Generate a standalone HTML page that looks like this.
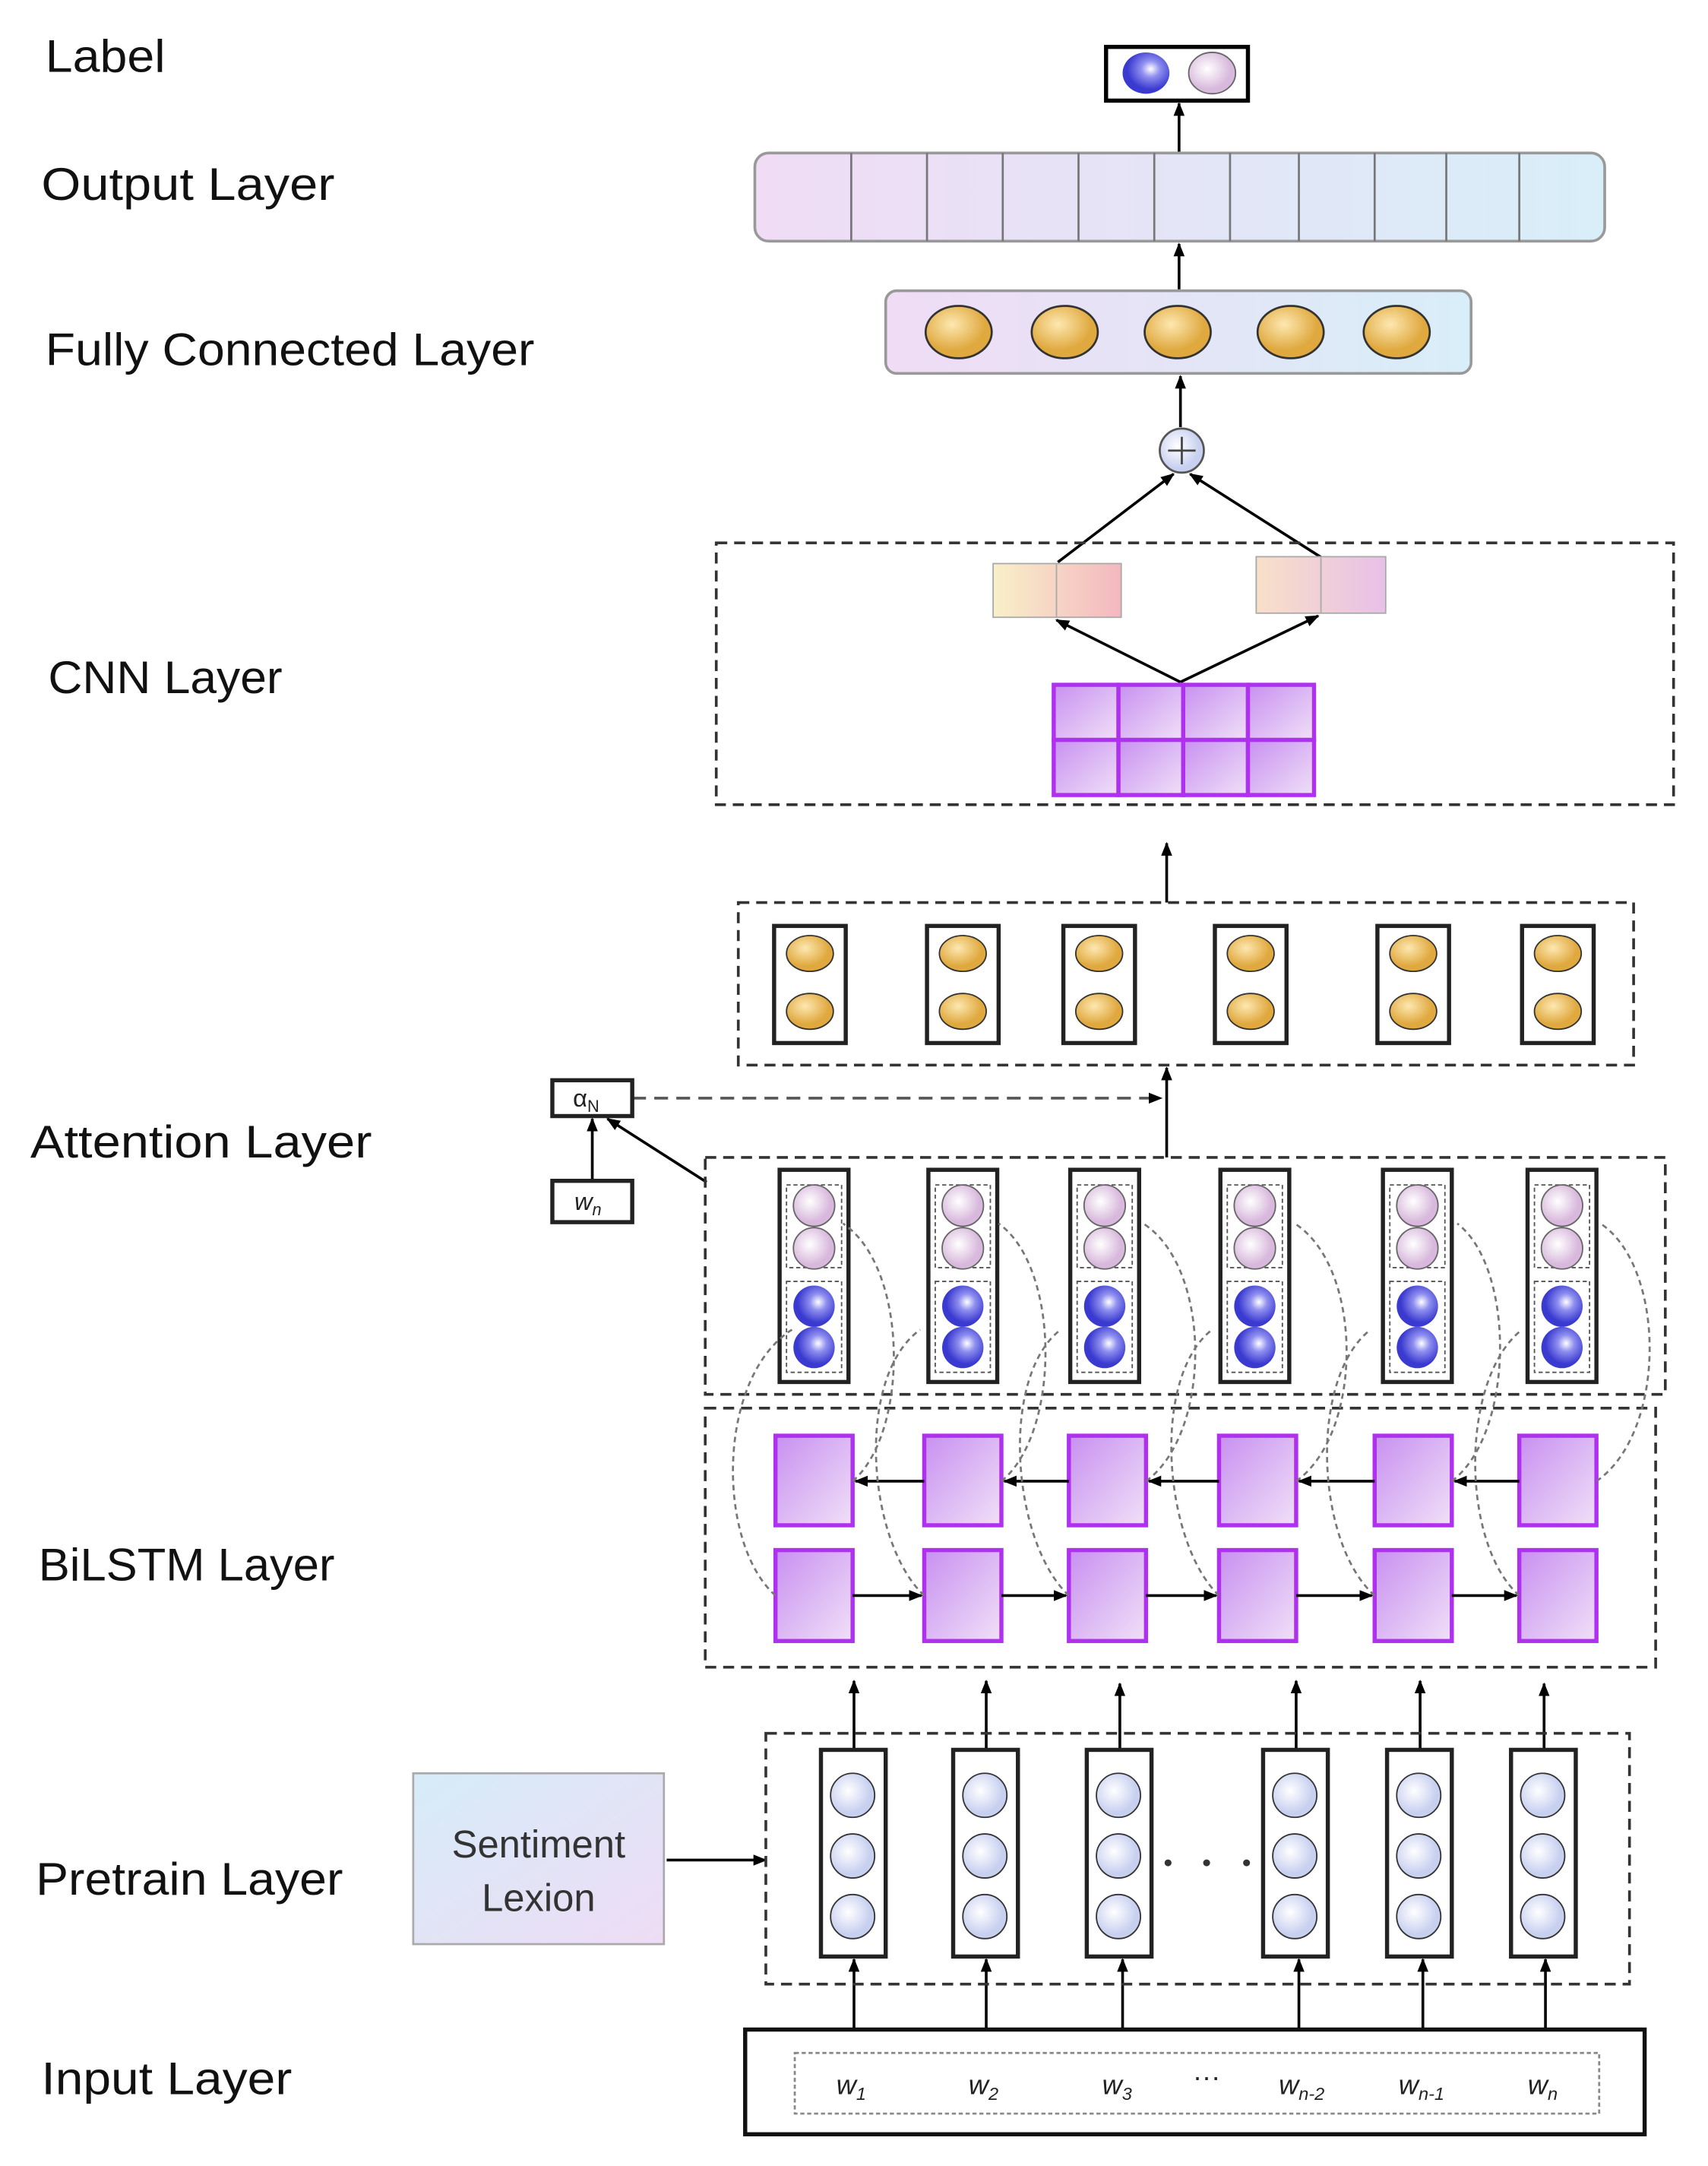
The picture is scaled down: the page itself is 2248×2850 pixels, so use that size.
<!DOCTYPE html>
<html><head><meta charset="utf-8"><style>html,body{margin:0;padding:0;background:#fff}svg{display:block}</style></head>
<body>
<svg width="2248" height="2850" viewBox="0 0 1240 1572" xmlns="http://www.w3.org/2000/svg" font-family="Liberation Sans, sans-serif">
<defs>
<linearGradient id="outg" x1="0" x2="1"><stop offset="0" stop-color="#f0dcf5"/><stop offset="1" stop-color="#d8eef8"/></linearGradient>
<linearGradient id="lex" x1="0" x2="1" y1="0" y2="1"><stop offset="0" stop-color="#d6ecf8"/><stop offset="1" stop-color="#eedcf5"/></linearGradient>
<radialGradient id="gold" cx="0.4" cy="0.35"><stop offset="0" stop-color="#fde8b0"/><stop offset="1" stop-color="#e0a940"/></radialGradient>
<radialGradient id="blue" cx="0.6" cy="0.4"><stop offset="0" stop-color="#ffffff"/><stop offset="0.4" stop-color="#8f8ff0"/><stop offset="1" stop-color="#3a3ad0"/></radialGradient>
<radialGradient id="pink" cx="0.4" cy="0.4"><stop offset="0" stop-color="#ffffff"/><stop offset="1" stop-color="#d8b8dc"/></radialGradient>
<radialGradient id="lc" cx="0.4" cy="0.4"><stop offset="0" stop-color="#ffffff"/><stop offset="1" stop-color="#c8d0f0"/></radialGradient>
<linearGradient id="pur" x1="0" x2="1" y1="0" y2="1"><stop offset="0" stop-color="#c890f0"/><stop offset="1" stop-color="#f0e0f8"/></linearGradient>
<linearGradient id="peach" x1="0" x2="1"><stop offset="0" stop-color="#f8f0c8"/><stop offset="1" stop-color="#f4b8c0"/></linearGradient>
<linearGradient id="peach2" x1="0" x2="1"><stop offset="0" stop-color="#f8e0c8"/><stop offset="1" stop-color="#e8c0e8"/></linearGradient>
<marker id="ar" markerWidth="10" markerHeight="10" refX="9" refY="5" orient="auto" markerUnits="userSpaceOnUse"><path d="M0,1 L10,5 L0,9 z" fill="#000"/></marker>
</defs>
<g font-size="33" fill="#111">
<text x="33" y="52" textLength="87" lengthAdjust="spacingAndGlyphs">Label</text>
<text x="30" y="145" textLength="213" lengthAdjust="spacingAndGlyphs">Output Layer</text>
<text x="33" y="265" textLength="355" lengthAdjust="spacingAndGlyphs">Fully Connected Layer</text>
<text x="35" y="503" textLength="170" lengthAdjust="spacingAndGlyphs">CNN Layer</text>
<text x="22" y="840" textLength="248" lengthAdjust="spacingAndGlyphs">Attention Layer</text>
<text x="28" y="1147" textLength="215" lengthAdjust="spacingAndGlyphs">BiLSTM Layer</text>
<text x="26" y="1375" textLength="223" lengthAdjust="spacingAndGlyphs">Pretrain Layer</text>
<text x="30" y="1520" textLength="182" lengthAdjust="spacingAndGlyphs">Input Layer</text>
</g>
<g stroke="#000" stroke-width="2" fill="none" marker-end="url(#ar)">
<line x1="856" y1="110" x2="856" y2="75"/>
<line x1="856" y1="210" x2="856" y2="177"/>
<line x1="857" y1="310" x2="857" y2="273"/>
<line x1="768" y1="408" x2="852" y2="344"/>
<line x1="960" y1="405" x2="864" y2="344"/>
<line x1="857" y1="495" x2="767" y2="450"/>
<line x1="857" y1="495" x2="957" y2="447"/>
<line x1="847" y1="655" x2="847" y2="612"/>
<line x1="847" y1="840" x2="847" y2="775"/>
<line x1="430" y1="857" x2="430" y2="812"/>
<line x1="513" y1="858" x2="441" y2="812"/>
<line x1="484" y1="1350" x2="556" y2="1350"/>
</g>
<line x1="459" y1="797" x2="843" y2="797" stroke="#555" stroke-width="2" stroke-dasharray="10,6" marker-end="url(#ar)"/>
<rect x="803" y="34" width="103" height="39" fill="#fff" stroke="#000" stroke-width="3"/>
<ellipse cx="832" cy="53" rx="17" ry="15" fill="url(#blue)"/>
<ellipse cx="880" cy="53" rx="17" ry="15" fill="url(#pink)" stroke="#666"/>
<rect x="548" y="111" width="617" height="64" rx="10" fill="url(#outg)" stroke="#999" stroke-width="2"/>
<g stroke="#777" stroke-width="1.5">
<line x1="618" y1="111" x2="618" y2="175"/><line x1="673" y1="111" x2="673" y2="175"/><line x1="728" y1="111" x2="728" y2="175"/><line x1="783" y1="111" x2="783" y2="175"/><line x1="838" y1="111" x2="838" y2="175"/><line x1="893" y1="111" x2="893" y2="175"/><line x1="943" y1="111" x2="943" y2="175"/><line x1="998" y1="111" x2="998" y2="175"/><line x1="1050" y1="111" x2="1050" y2="175"/><line x1="1103" y1="111" x2="1103" y2="175"/>
</g>
<rect x="643" y="211" width="425" height="60" rx="8" fill="url(#outg)" stroke="#999" stroke-width="2"/>
<g fill="url(#gold)" stroke="#333" stroke-width="1.5">
<ellipse cx="696" cy="241" rx="24" ry="19"/><ellipse cx="773" cy="241" rx="24" ry="19"/><ellipse cx="855" cy="241" rx="24" ry="19"/><ellipse cx="937" cy="241" rx="24" ry="19"/><ellipse cx="1014" cy="241" rx="24" ry="19"/>
</g>
<circle cx="858" cy="327" r="16" fill="url(#lc)" stroke="#555" stroke-width="1.5"/>
<path d="M848 327h20M858 317v20" stroke="#444" stroke-width="1.5"/>
<rect x="520" y="394" width="695" height="190" fill="none" stroke="#333" stroke-width="2" stroke-dasharray="8,5"/>
<rect x="721" y="409" width="93" height="39" fill="url(#peach)" stroke="#aaa"/><line x1="767" y1="409" x2="767" y2="448" stroke="#aaa"/>
<rect x="912" y="404" width="94" height="41" fill="url(#peach2)" stroke="#aaa"/><line x1="959" y1="404" x2="959" y2="445" stroke="#aaa"/>
<g fill="url(#pur)" stroke="#b030f0" stroke-width="3">
<rect x="765" y="497" width="47" height="40"/><rect x="812" y="497" width="47" height="40"/><rect x="859" y="497" width="47" height="40"/><rect x="906" y="497" width="48" height="40"/>
<rect x="765" y="537" width="47" height="40"/><rect x="812" y="537" width="47" height="40"/><rect x="859" y="537" width="47" height="40"/><rect x="906" y="537" width="48" height="40"/>
</g>
<rect x="536" y="655" width="650" height="118" fill="none" stroke="#333" stroke-width="2" stroke-dasharray="8,5"/>
<g>
<g transform="translate(588,0)"><rect x="-26" y="672" width="52" height="85" fill="#fff" stroke="#222" stroke-width="3"/><ellipse cx="0" cy="692" rx="17" ry="13" fill="url(#gold)" stroke="#333"/><ellipse cx="0" cy="734" rx="17" ry="13" fill="url(#gold)" stroke="#333"/></g>
<g transform="translate(699,0)"><rect x="-26" y="672" width="52" height="85" fill="#fff" stroke="#222" stroke-width="3"/><ellipse cx="0" cy="692" rx="17" ry="13" fill="url(#gold)" stroke="#333"/><ellipse cx="0" cy="734" rx="17" ry="13" fill="url(#gold)" stroke="#333"/></g>
<g transform="translate(798,0)"><rect x="-26" y="672" width="52" height="85" fill="#fff" stroke="#222" stroke-width="3"/><ellipse cx="0" cy="692" rx="17" ry="13" fill="url(#gold)" stroke="#333"/><ellipse cx="0" cy="734" rx="17" ry="13" fill="url(#gold)" stroke="#333"/></g>
<g transform="translate(908,0)"><rect x="-26" y="672" width="52" height="85" fill="#fff" stroke="#222" stroke-width="3"/><ellipse cx="0" cy="692" rx="17" ry="13" fill="url(#gold)" stroke="#333"/><ellipse cx="0" cy="734" rx="17" ry="13" fill="url(#gold)" stroke="#333"/></g>
<g transform="translate(1026,0)"><rect x="-26" y="672" width="52" height="85" fill="#fff" stroke="#222" stroke-width="3"/><ellipse cx="0" cy="692" rx="17" ry="13" fill="url(#gold)" stroke="#333"/><ellipse cx="0" cy="734" rx="17" ry="13" fill="url(#gold)" stroke="#333"/></g>
<g transform="translate(1131,0)"><rect x="-26" y="672" width="52" height="85" fill="#fff" stroke="#222" stroke-width="3"/><ellipse cx="0" cy="692" rx="17" ry="13" fill="url(#gold)" stroke="#333"/><ellipse cx="0" cy="734" rx="17" ry="13" fill="url(#gold)" stroke="#333"/></g>
</g>
<rect x="401" y="784" width="58" height="26" fill="#fff" stroke="#222" stroke-width="3"/>
<text x="416" y="803" font-size="18" fill="#222">α<tspan font-size="12" dy="4">N</tspan></text>
<rect x="401" y="857" width="58" height="30" fill="#fff" stroke="#222" stroke-width="3"/>
<text x="417" y="878" font-size="18" font-style="italic" fill="#222">w<tspan font-size="12" dy="4">n</tspan></text>
<rect x="512" y="840" width="697" height="172" fill="none" stroke="#333" stroke-width="2" stroke-dasharray="8,5"/>
<g>
<g transform="translate(591,0)"><rect x="-25" y="849" width="50" height="154" fill="#fff" stroke="#222" stroke-width="3"/><rect x="-20" y="860" width="40" height="60" fill="none" stroke="#555" stroke-dasharray="3,2"/><rect x="-20" y="930" width="40" height="66" fill="none" stroke="#555" stroke-dasharray="3,2"/><circle cy="875" r="15" fill="url(#pink)" stroke="#666"/><circle cy="906" r="15" fill="url(#pink)" stroke="#666"/><circle cy="948" r="15" fill="url(#blue)"/><circle cy="978" r="15" fill="url(#blue)"/></g>
<g transform="translate(699,0)"><rect x="-25" y="849" width="50" height="154" fill="#fff" stroke="#222" stroke-width="3"/><rect x="-20" y="860" width="40" height="60" fill="none" stroke="#555" stroke-dasharray="3,2"/><rect x="-20" y="930" width="40" height="66" fill="none" stroke="#555" stroke-dasharray="3,2"/><circle cy="875" r="15" fill="url(#pink)" stroke="#666"/><circle cy="906" r="15" fill="url(#pink)" stroke="#666"/><circle cy="948" r="15" fill="url(#blue)"/><circle cy="978" r="15" fill="url(#blue)"/></g>
<g transform="translate(802,0)"><rect x="-25" y="849" width="50" height="154" fill="#fff" stroke="#222" stroke-width="3"/><rect x="-20" y="860" width="40" height="60" fill="none" stroke="#555" stroke-dasharray="3,2"/><rect x="-20" y="930" width="40" height="66" fill="none" stroke="#555" stroke-dasharray="3,2"/><circle cy="875" r="15" fill="url(#pink)" stroke="#666"/><circle cy="906" r="15" fill="url(#pink)" stroke="#666"/><circle cy="948" r="15" fill="url(#blue)"/><circle cy="978" r="15" fill="url(#blue)"/></g>
<g transform="translate(911,0)"><rect x="-25" y="849" width="50" height="154" fill="#fff" stroke="#222" stroke-width="3"/><rect x="-20" y="860" width="40" height="60" fill="none" stroke="#555" stroke-dasharray="3,2"/><rect x="-20" y="930" width="40" height="66" fill="none" stroke="#555" stroke-dasharray="3,2"/><circle cy="875" r="15" fill="url(#pink)" stroke="#666"/><circle cy="906" r="15" fill="url(#pink)" stroke="#666"/><circle cy="948" r="15" fill="url(#blue)"/><circle cy="978" r="15" fill="url(#blue)"/></g>
<g transform="translate(1029,0)"><rect x="-25" y="849" width="50" height="154" fill="#fff" stroke="#222" stroke-width="3"/><rect x="-20" y="860" width="40" height="60" fill="none" stroke="#555" stroke-dasharray="3,2"/><rect x="-20" y="930" width="40" height="66" fill="none" stroke="#555" stroke-dasharray="3,2"/><circle cy="875" r="15" fill="url(#pink)" stroke="#666"/><circle cy="906" r="15" fill="url(#pink)" stroke="#666"/><circle cy="948" r="15" fill="url(#blue)"/><circle cy="978" r="15" fill="url(#blue)"/></g>
<g transform="translate(1134,0)"><rect x="-25" y="849" width="50" height="154" fill="#fff" stroke="#222" stroke-width="3"/><rect x="-20" y="860" width="40" height="60" fill="none" stroke="#555" stroke-dasharray="3,2"/><rect x="-20" y="930" width="40" height="66" fill="none" stroke="#555" stroke-dasharray="3,2"/><circle cy="875" r="15" fill="url(#pink)" stroke="#666"/><circle cy="906" r="15" fill="url(#pink)" stroke="#666"/><circle cy="948" r="15" fill="url(#blue)"/><circle cy="978" r="15" fill="url(#blue)"/></g>
</g>
<rect x="512" y="1022" width="690" height="188" fill="none" stroke="#333" stroke-width="2" stroke-dasharray="8,5"/>
<g fill="url(#pur)" stroke="#b030f0" stroke-width="3">
<rect x="563" y="1042" width="56" height="65"/><rect x="671" y="1042" width="56" height="65"/><rect x="776" y="1042" width="56" height="65"/><rect x="885" y="1042" width="56" height="65"/><rect x="998" y="1042" width="56" height="65"/><rect x="1103" y="1042" width="56" height="65"/>
<rect x="563" y="1125" width="56" height="66"/><rect x="671" y="1125" width="56" height="66"/><rect x="776" y="1125" width="56" height="66"/><rect x="885" y="1125" width="56" height="66"/><rect x="998" y="1125" width="56" height="66"/><rect x="1103" y="1125" width="56" height="66"/>
</g>
<g stroke="#000" stroke-width="2" marker-end="url(#ar)">
<line x1="671" y1="1075" x2="621" y2="1075"/><line x1="776" y1="1075" x2="729" y2="1075"/><line x1="885" y1="1075" x2="834" y2="1075"/><line x1="998" y1="1075" x2="943" y2="1075"/><line x1="1103" y1="1075" x2="1056" y2="1075"/>
<line x1="619" y1="1158" x2="669" y2="1158"/><line x1="727" y1="1158" x2="774" y2="1158"/><line x1="832" y1="1158" x2="883" y2="1158"/><line x1="941" y1="1158" x2="996" y2="1158"/><line x1="1054" y1="1158" x2="1101" y2="1158"/>
</g>
<g fill="none" stroke="#777" stroke-width="1.5" stroke-dasharray="4,3">
<path d="M563 1158 C520 1120 520 1000 575 965"/><path d="M671 1158 C630 1120 620 1000 668 965"/><path d="M776 1158 C735 1120 725 1000 770 965"/><path d="M885 1158 C845 1120 835 1000 880 965"/><path d="M998 1158 C955 1120 950 1000 995 965"/><path d="M1103 1158 C1060 1120 1060 1000 1105 965"/>
<path d="M619 1075 C660 1040 660 920 612 888"/><path d="M727 1075 C770 1040 770 920 725 888"/><path d="M832 1075 C880 1040 880 920 830 888"/><path d="M941 1075 C990 1040 990 920 940 888"/><path d="M1054 1075 C1100 1040 1100 920 1058 888"/><path d="M1159 1075 C1210 1040 1210 920 1162 888"/>
</g>
<g stroke="#000" stroke-width="2" marker-end="url(#ar)">
<line x1="620" y1="1270" x2="620" y2="1220"/><line x1="716" y1="1270" x2="716" y2="1220"/><line x1="813" y1="1270" x2="813" y2="1222"/><line x1="941" y1="1270" x2="941" y2="1220"/><line x1="1031" y1="1270" x2="1031" y2="1220"/><line x1="1121" y1="1270" x2="1121" y2="1222"/>
<line x1="620" y1="1473" x2="620" y2="1422"/><line x1="716" y1="1473" x2="716" y2="1422"/><line x1="815" y1="1473" x2="815" y2="1422"/><line x1="943" y1="1473" x2="943" y2="1422"/><line x1="1033" y1="1473" x2="1033" y2="1422"/><line x1="1122" y1="1473" x2="1122" y2="1422"/>
</g>
<rect x="556" y="1258" width="627" height="182" fill="none" stroke="#333" stroke-width="2" stroke-dasharray="8,5"/>
<g>
<g transform="translate(619,0)"><rect x="-23" y="1270" width="47" height="150" fill="#fff" stroke="#222" stroke-width="3"/><circle cy="1303" r="16" fill="url(#lc)" stroke="#333"/><circle cy="1347" r="16" fill="url(#lc)" stroke="#333"/><circle cy="1391" r="16" fill="url(#lc)" stroke="#333"/></g>
<g transform="translate(715,0)"><rect x="-23" y="1270" width="47" height="150" fill="#fff" stroke="#222" stroke-width="3"/><circle cy="1303" r="16" fill="url(#lc)" stroke="#333"/><circle cy="1347" r="16" fill="url(#lc)" stroke="#333"/><circle cy="1391" r="16" fill="url(#lc)" stroke="#333"/></g>
<g transform="translate(812,0)"><rect x="-23" y="1270" width="47" height="150" fill="#fff" stroke="#222" stroke-width="3"/><circle cy="1303" r="16" fill="url(#lc)" stroke="#333"/><circle cy="1347" r="16" fill="url(#lc)" stroke="#333"/><circle cy="1391" r="16" fill="url(#lc)" stroke="#333"/></g>
<g transform="translate(940,0)"><rect x="-23" y="1270" width="47" height="150" fill="#fff" stroke="#222" stroke-width="3"/><circle cy="1303" r="16" fill="url(#lc)" stroke="#333"/><circle cy="1347" r="16" fill="url(#lc)" stroke="#333"/><circle cy="1391" r="16" fill="url(#lc)" stroke="#333"/></g>
<g transform="translate(1030,0)"><rect x="-23" y="1270" width="47" height="150" fill="#fff" stroke="#222" stroke-width="3"/><circle cy="1303" r="16" fill="url(#lc)" stroke="#333"/><circle cy="1347" r="16" fill="url(#lc)" stroke="#333"/><circle cy="1391" r="16" fill="url(#lc)" stroke="#333"/></g>
<g transform="translate(1120,0)"><rect x="-23" y="1270" width="47" height="150" fill="#fff" stroke="#222" stroke-width="3"/><circle cy="1303" r="16" fill="url(#lc)" stroke="#333"/><circle cy="1347" r="16" fill="url(#lc)" stroke="#333"/><circle cy="1391" r="16" fill="url(#lc)" stroke="#333"/></g>
</g>
<g fill="#333"><circle cx="848" cy="1352" r="2.5"/><circle cx="876" cy="1352" r="2.5"/><circle cx="905" cy="1352" r="2.5"/></g>
<rect x="300" y="1287" width="182" height="124" fill="url(#lex)" stroke="#aaa" stroke-width="1.5"/>
<text x="391" y="1348" font-size="28" text-anchor="middle" fill="#333">Sentiment</text>
<text x="391" y="1387" font-size="28" text-anchor="middle" fill="#333">Lexion</text>
<rect x="541" y="1473" width="653" height="76" fill="#fff" stroke="#111" stroke-width="3"/>
<rect x="577" y="1490" width="584" height="44" fill="none" stroke="#888" stroke-width="1.5" stroke-dasharray="3,2"/>
<g font-size="20" font-style="italic" fill="#222" text-anchor="middle">
<text x="618" y="1520">w<tspan font-size="13" dy="4">1</tspan></text>
<text x="714" y="1520">w<tspan font-size="13" dy="4">2</tspan></text>
<text x="811" y="1520">w<tspan font-size="13" dy="4">3</tspan></text>
<text x="876" y="1514" font-style="normal">···</text>
<text x="945" y="1520">w<tspan font-size="13" dy="4">n-2</tspan></text>
<text x="1032" y="1520">w<tspan font-size="13" dy="4">n-1</tspan></text>
<text x="1120" y="1520">w<tspan font-size="13" dy="4">n</tspan></text>
</g>
</svg>
</body></html>
